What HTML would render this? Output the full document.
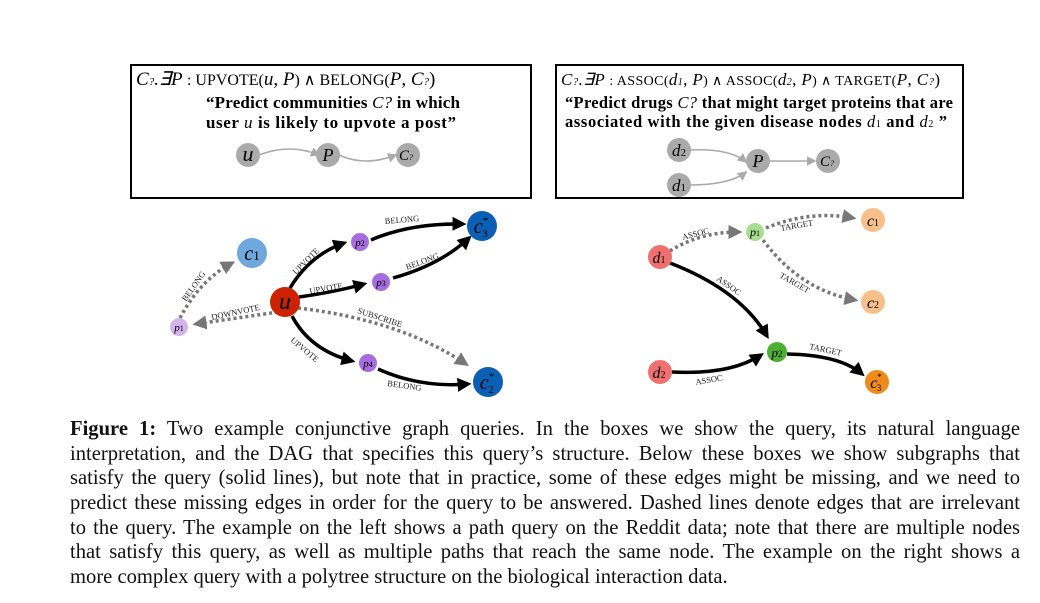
<!DOCTYPE html>
<html><head><meta charset="utf-8"><style>
body{margin:0;width:1040px;height:603px;background:#fff;overflow:hidden;position:relative;font-family:"Liberation Serif",serif}
.cap{position:absolute;left:70px;top:417px;width:950px;font-size:20.6px;line-height:24.65px;color:#111}
.cap div{text-align:justify;text-align-last:justify;white-space:nowrap}
.cap div.l{text-align-last:left}
</style></head><body>
<svg width="1040" height="410" style="position:absolute;left:0;top:0" font-family="Liberation Serif, serif">
<defs>
<marker id="ag" markerWidth="6" markerHeight="6" refX="5" refY="3" orient="auto"><path d="M0,0L6,3L0,6z" fill="#aaa"/></marker>
<marker id="ab" markerWidth="4" markerHeight="4" refX="3" refY="2" orient="auto"><path d="M0,0L4,2L0,4z" fill="#000"/></marker>
<marker id="ad" markerWidth="4" markerHeight="4" refX="3" refY="2" orient="auto"><path d="M0,0L4,2L0,4z" fill="#777"/></marker>
</defs>
<rect x="131" y="65" width="400" height="133" fill="none" stroke="#000" stroke-width="2"/>
<rect x="556" y="65" width="407" height="133" fill="none" stroke="#000" stroke-width="2"/>
<text x="136" y="85" font-size="19" font-style="italic">C<tspan font-size="11">?</tspan>.∃P <tspan font-style="normal" font-size="16">: UPVOTE(</tspan>u<tspan font-style="normal">,</tspan> P<tspan font-style="normal" font-size="16">) ∧ BELONG(</tspan>P<tspan font-style="normal">,</tspan> C<tspan font-size="11">?</tspan><tspan font-style="normal">)</tspan></text>
<text x="206" y="108" font-size="17" font-weight="bold" textLength="254">“Predict communities <tspan font-style="italic" font-weight="normal">C?</tspan> in which</text>
<text x="206" y="128" font-size="17" font-weight="bold" textLength="250">user <tspan font-style="italic" font-weight="normal">u</tspan> is likely to upvote a post”</text>
<path d="M259,155 Q290,143 319,155" fill="none" stroke="#aaa" stroke-width="1.6" marker-end="url(#ag)"/>
<path d="M339,155 Q365,167 396,155" fill="none" stroke="#aaa" stroke-width="1.6" marker-end="url(#ag)"/>
<circle cx="248" cy="155" r="12" fill="#aaa"/><circle cx="328" cy="155" r="12" fill="#aaa"/><circle cx="408" cy="155" r="12" fill="#aaa"/>
<text x="248" y="161" font-size="22" font-style="italic" text-anchor="middle">u</text>
<text x="328" y="161" font-size="18" font-style="italic" text-anchor="middle">P</text>
<text x="406" y="160" font-size="15" font-style="italic" text-anchor="middle">C<tspan font-size="8">?</tspan></text>

<text x="561" y="85" font-size="17" font-style="italic" textLength="379">C<tspan font-size="11">?</tspan>.∃P <tspan font-style="normal" font-size="14">: ASSOC(</tspan>d<tspan font-size="10">1</tspan><tspan font-style="normal">,</tspan> P<tspan font-style="normal" font-size="14">) ∧ ASSOC(</tspan>d<tspan font-size="10">2</tspan><tspan font-style="normal">,</tspan> P<tspan font-style="normal" font-size="14">) ∧ TARGET(</tspan>P<tspan font-style="normal">,</tspan> C<tspan font-size="11">?</tspan><tspan font-style="normal">)</tspan></text>
<text x="565" y="108" font-size="16.5" font-weight="bold" textLength="388">“Predict drugs <tspan font-style="italic" font-weight="normal">C?</tspan> that might target proteins that are</text>
<text x="565" y="127" font-size="16.5" font-weight="bold" textLength="382">associated with the given disease nodes <tspan font-style="italic" font-weight="normal">d</tspan><tspan font-size="10" font-weight="normal">1</tspan> and <tspan font-style="italic" font-weight="normal">d</tspan><tspan font-size="10" font-weight="normal">2</tspan> ”</text>
<path d="M689,150 Q730,148 746,162" fill="none" stroke="#aaa" stroke-width="1.6" marker-end="url(#ag)"/>
<path d="M689,185 Q730,185 746,172" fill="none" stroke="#aaa" stroke-width="1.6" marker-end="url(#ag)"/>
<path d="M769,161 L815,161" fill="none" stroke="#aaa" stroke-width="1.6" marker-end="url(#ag)"/>
<circle cx="679" cy="150" r="12" fill="#aaa"/><circle cx="679" cy="185" r="12" fill="#aaa"/><circle cx="758" cy="161" r="12" fill="#aaa"/><circle cx="828" cy="161" r="12" fill="#aaa"/>
<text x="679" y="156" font-size="17" font-style="italic" text-anchor="middle">d<tspan font-size="11" font-style="normal">2</tspan></text>
<text x="679" y="191" font-size="17" font-style="italic" text-anchor="middle">d<tspan font-size="11" font-style="normal">1</tspan></text>
<text x="758" y="167" font-size="18" font-style="italic" text-anchor="middle">P</text>
<text x="827" y="166" font-size="15" font-style="italic" text-anchor="middle">C<tspan font-size="8">?</tspan></text>

<!-- left graph -->
<g fill="none" stroke-width="3.5">
<path d="M278,312 L196,324" stroke="#777" stroke-dasharray="3,3" marker-end="url(#ad)"/>
<path d="M180,318 Q200,280 232,263" stroke="#777" stroke-dasharray="3,3" marker-end="url(#ad)"/>
<path d="M298,308 Q400,320 466,364" stroke="#777" stroke-dasharray="3,3" marker-end="url(#ad)"/>
<path d="M290,288 Q310,255 344,243" stroke="#000" marker-end="url(#ab)"/>
<path d="M299,297 Q335,292 364,284" stroke="#000" marker-end="url(#ab)"/>
<path d="M292,316 Q310,350 352,361" stroke="#000" marker-end="url(#ab)"/>
<path d="M371,240 Q410,223 463,224" stroke="#000" marker-end="url(#ab)"/>
<path d="M393,278 Q440,265 469,238" stroke="#000" marker-end="url(#ab)"/>
<path d="M378,369 Q420,388 468,384" stroke="#000" marker-end="url(#ab)"/>
</g>
<g font-size="8.5" fill="#222">
<text transform="translate(186,302) rotate(-55)">BELONG</text>
<text transform="translate(212,320) rotate(-12)">DOWNVOTE</text>
<text transform="translate(296,275) rotate(-45)">UPVOTE</text>
<text transform="translate(310,294) rotate(-10)">UPVOTE</text>
<text transform="translate(290,341) rotate(40)">UPVOTE</text>
<text transform="translate(385,224) rotate(-5)">BELONG</text>
<text transform="translate(407,270) rotate(-20)">BELONG</text>
<text transform="translate(357,313) rotate(18)">SUBSCRIBE</text>
<text transform="translate(387,386) rotate(8)">BELONG</text>
</g>
<circle cx="252" cy="253" r="15" fill="#6fa8dc"/><text x="252" y="260" font-size="20" font-style="italic" text-anchor="middle">c<tspan font-size="13" font-style="normal">1</tspan></text>
<circle cx="179" cy="327" r="9" fill="#d5b3ec"/><text x="179" y="331" font-size="11" font-style="italic" text-anchor="middle">p<tspan font-size="8" font-style="normal">1</tspan></text>
<circle cx="285" cy="302" r="15" fill="#cc2200"/><text x="285" y="309" font-size="24" font-style="italic" text-anchor="middle">u</text>
<circle cx="360" cy="242" r="9" fill="#a66de0"/><text x="360" y="246" font-size="11" font-style="italic" text-anchor="middle">p<tspan font-size="8" font-style="normal">2</tspan></text>
<circle cx="381" cy="282" r="9" fill="#a66de0"/><text x="381" y="286" font-size="11" font-style="italic" text-anchor="middle">p<tspan font-size="8" font-style="normal">3</tspan></text>
<circle cx="368" cy="363" r="9" fill="#a66de0"/><text x="368" y="367" font-size="11" font-style="italic" text-anchor="middle">p<tspan font-size="8" font-style="normal">4</tspan></text>
<circle cx="482" cy="226" r="15" fill="#0b5fb5"/><text x="481" y="233" font-size="20" font-style="italic" text-anchor="middle">c<tspan font-size="11" font-style="normal" dy="-9">*</tspan><tspan font-size="11" font-style="normal" dx="-6" dy="13">3</tspan></text>
<circle cx="488" cy="382" r="15" fill="#0b5fb5"/><text x="487" y="389" font-size="20" font-style="italic" text-anchor="middle">c<tspan font-size="11" font-style="normal" dy="-9">*</tspan><tspan font-size="11" font-style="normal" dx="-6" dy="13">2</tspan></text>

<!-- right graph -->
<g fill="none" stroke-width="3.5">
<path d="M670,251 Q700,232 739,232" stroke="#777" stroke-dasharray="3,3" marker-end="url(#ad)"/>
<path d="M766,228 Q810,210 853,218" stroke="#777" stroke-dasharray="3,3" marker-end="url(#ad)"/>
<path d="M763,240 Q800,290 855,300" stroke="#777" stroke-dasharray="3,3" marker-end="url(#ad)"/>
<path d="M670,263 Q740,290 767,336" stroke="#000" marker-end="url(#ab)"/>
<path d="M672,372 Q730,375 761,355" stroke="#000" marker-end="url(#ab)"/>
<path d="M787,354 Q840,355 862,374" stroke="#000" marker-end="url(#ab)"/>
</g>
<g font-size="8.5" fill="#222">
<text transform="translate(683,240) rotate(-15)">ASSOC</text>
<text transform="translate(781,231) rotate(-10)">TARGET</text>
<text transform="translate(779,277) rotate(30)">TARGET</text>
<text transform="translate(716,280) rotate(35)">ASSOC</text>
<text transform="translate(696,385) rotate(-10)">ASSOC</text>
<text transform="translate(809,349) rotate(12)">TARGET</text>
</g>
<circle cx="660" cy="257" r="12" fill="#f07070"/><text x="659" y="263" font-size="16" font-style="italic" text-anchor="middle">d<tspan font-size="10" font-style="normal">1</tspan></text>
<circle cx="660" cy="372" r="12" fill="#f07070"/><text x="659" y="378" font-size="16" font-style="italic" text-anchor="middle">d<tspan font-size="10" font-style="normal">2</tspan></text>
<circle cx="755" cy="232" r="9" fill="#a8dc90"/><text x="755" y="236" font-size="12" font-style="italic" text-anchor="middle">p<tspan font-size="8" font-style="normal">1</tspan></text>
<circle cx="777" cy="352" r="10" fill="#4caf30"/><text x="777" y="357" font-size="13" font-style="italic" text-anchor="middle">p<tspan font-size="9" font-style="normal">2</tspan></text>
<circle cx="873" cy="220" r="12" fill="#f7c08a"/><text x="873" y="226" font-size="16" font-style="italic" text-anchor="middle">c<tspan font-size="10" font-style="normal">1</tspan></text>
<circle cx="873" cy="302" r="12" fill="#f7c08a"/><text x="873" y="308" font-size="16" font-style="italic" text-anchor="middle">c<tspan font-size="10" font-style="normal">2</tspan></text>
<circle cx="877" cy="382" r="12" fill="#f08a1a"/><text x="876" y="388" font-size="16" font-style="italic" text-anchor="middle">c<tspan font-size="9" font-style="normal" dy="-8">*</tspan><tspan font-size="9" font-style="normal" dx="-5" dy="11">3</tspan></text>
</svg>
<div class="cap">
<div><b>Figure 1:</b> Two example conjunctive graph queries. In the boxes we show the query, its natural language</div>
<div>interpretation, and the DAG that specifies this query’s structure. Below these boxes we show subgraphs that</div>
<div>satisfy the query (solid lines), but note that in practice, some of these edges might be missing, and we need to</div>
<div>predict these missing edges in order for the query to be answered. Dashed lines denote edges that are irrelevant</div>
<div>to the query. The example on the left shows a path query on the Reddit data; note that there are multiple nodes</div>
<div>that satisfy this query, as well as multiple paths that reach the same node. The example on the right shows a</div>
<div class="l">more complex query with a polytree structure on the biological interaction data.</div>
</div>
</body></html>
